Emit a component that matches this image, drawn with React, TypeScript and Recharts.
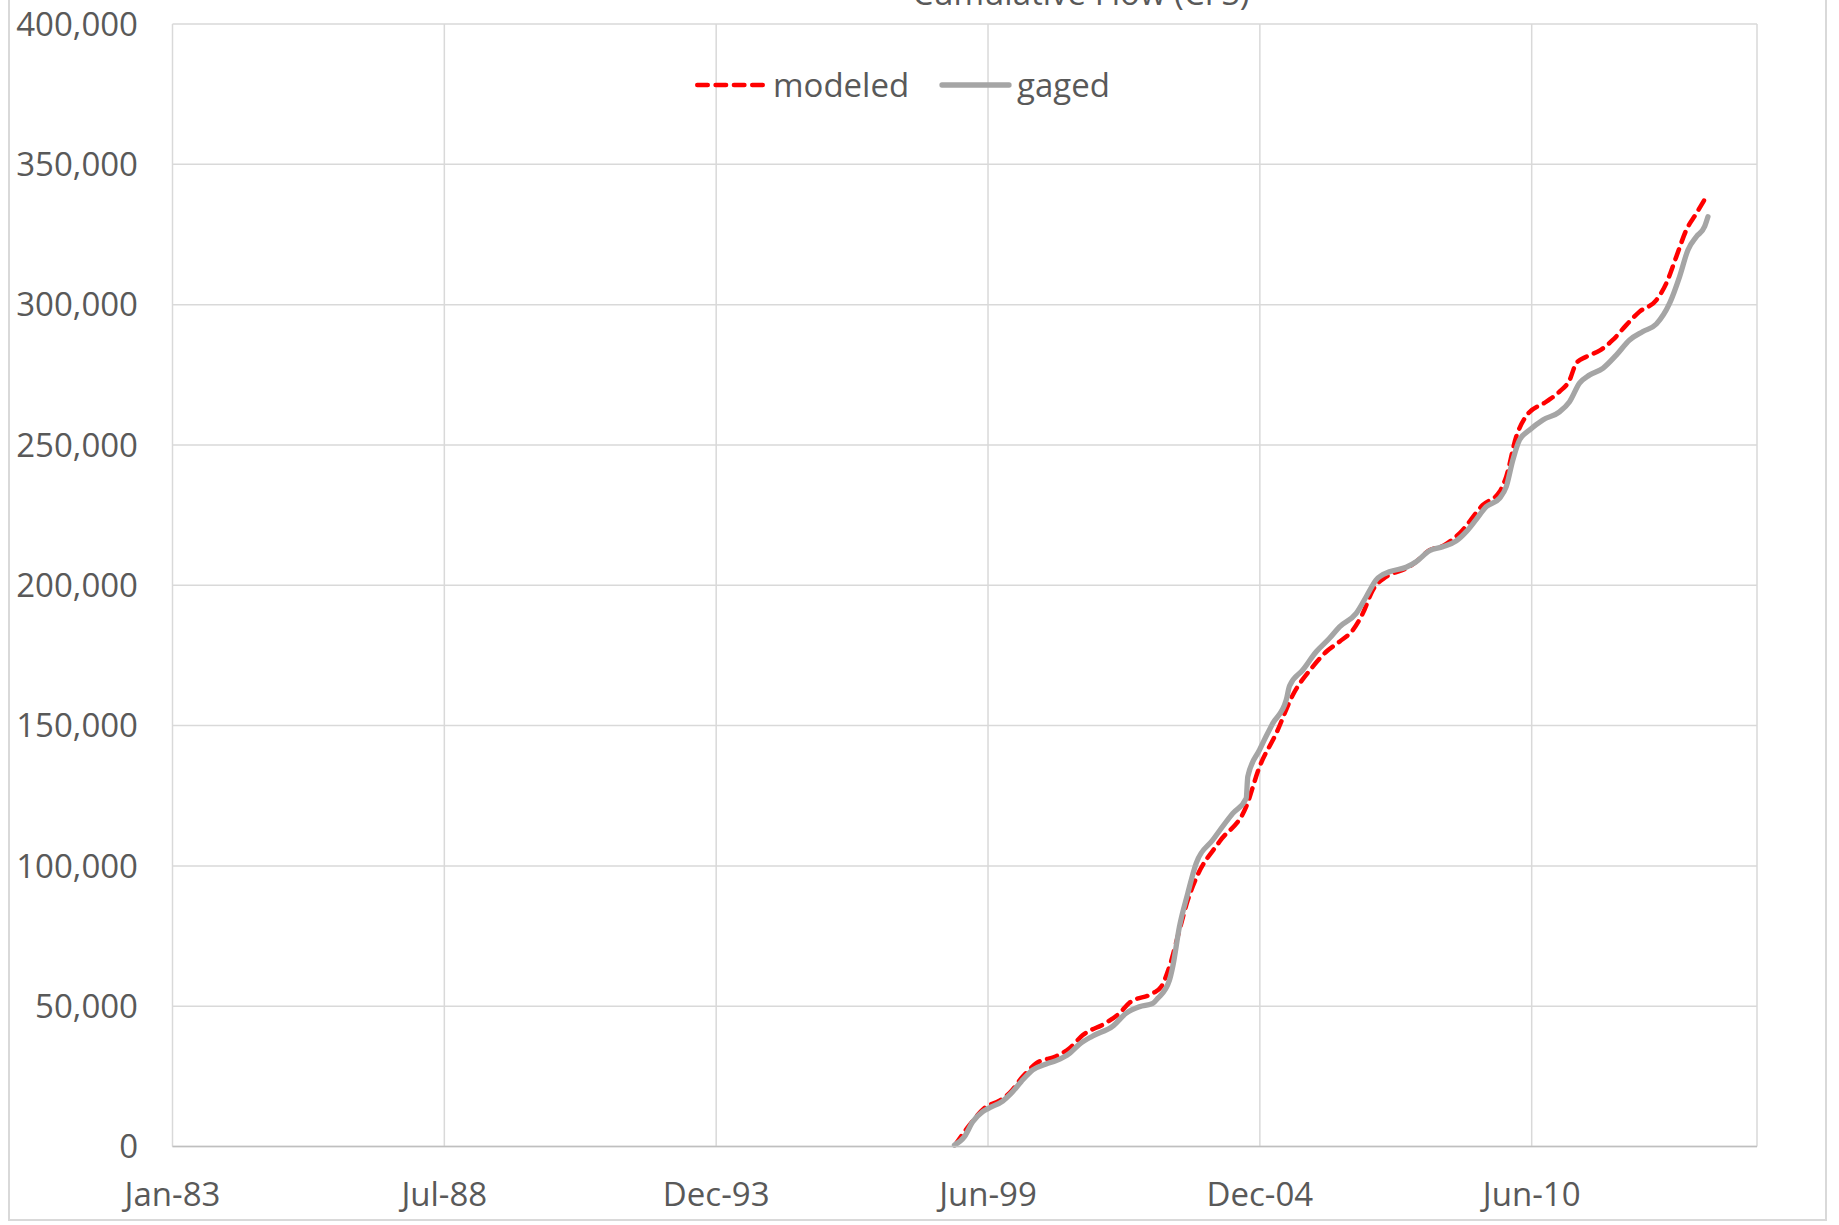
import React from 'react';
import { LineChart, Line, XAxis, YAxis, CartesianGrid, Legend } from 'recharts';

const gagedYears = [
  1998.792, 1998.994, 1999.161, 1999.362, 1999.477, 1999.765, 1999.934, 2000.136, 2000.369, 2000.639,
  2000.841, 2001.109, 2001.31, 2001.578, 2001.981, 2002.251, 2002.519, 2002.787, 2002.887, 2003.123,
  2003.189, 2003.324, 2003.492, 2003.661, 2003.995, 2004.398, 2004.668, 2004.7, 2004.936, 2005.204,
  2005.474, 2005.54, 2005.808, 2006.078, 2006.346, 2006.548, 2006.884, 2007.086, 2007.287, 2007.555,
  2007.891, 2008.093, 2008.361, 2008.629, 2008.899, 2009.1, 2009.302, 2009.503, 2009.771, 2009.906,
  2010.039, 2010.174, 2010.376, 2010.644, 2010.98, 2011.182, 2011.383, 2011.585, 2011.853, 2012.123,
  2012.391, 2012.659, 2012.929, 2013.197, 2013.398, 2013.566, 2013.735, 2013.902, 2013.969,
];
const gagedFlow = [
  500, 3500, 8800, 12400, 13600, 16200, 18900, 23100, 27300, 29400,
  30600, 33200, 36500, 39400, 42900, 47500, 49800, 51000, 52800, 59300,
  64100, 78300, 90200, 100900, 109200, 118700, 124100, 131800, 141300, 150800,
  159100, 164100, 169800, 176300, 181100, 185200, 190000, 195900, 201900, 204800,
  206400, 208400, 212300, 213700, 215800, 219100, 223500, 228000, 231000, 235100,
  244600, 251800, 255300, 258900, 261800, 265400, 272000, 274900, 277300, 282000,
  287400, 290400, 293100, 300500, 310000, 319500, 324200, 327800, 331300,
];

const modeledYears = [
  1998.806, 1999.094, 1999.431, 1999.699, 1999.9, 2000.168, 2000.438, 2000.841, 2001.109, 2001.377,
  2001.848, 2002.116, 2002.317, 2002.787, 2002.956, 2003.123, 2003.324, 2003.492, 2003.661, 2004.13,
  2004.668, 2004.936, 2005.272, 2005.607, 2006.01, 2006.28, 2006.548, 2006.816, 2007.018, 2007.219,
  2007.489, 2007.891, 2008.093, 2008.361, 2008.629, 2008.965, 2009.435, 2009.771, 2009.906, 2010.107,
  2010.308, 2010.711, 2010.98, 2011.182, 2011.317, 2011.518, 2011.786, 2012.054, 2012.324, 2012.592,
  2012.929, 2013.13, 2013.332, 2013.533, 2013.735, 2013.936,
];
const modeledFlow = [
  600, 7600, 14200, 16300, 19000, 24900, 29600, 32200, 35000, 39700,
  44100, 47500, 51200, 54600, 56900, 64100, 77100, 87800, 95600, 108600,
  121100, 135300, 147200, 160900, 171000, 176300, 179900, 184000, 190000, 198300,
  203000, 206000, 208400, 212500, 214000, 218500, 228600, 233300, 238700, 252900,
  260300, 265400, 269000, 273100, 279100, 281400, 283600, 287400, 292700, 297500,
  301600, 307600, 317100, 326600, 332500, 338500,
];

const seriesNames = ['modeled', 'gaged'];
const yTicks = [0, 50000, 100000, 150000, 200000, 250000, 300000, 350000, 400000];
const title = 'Cumulative Flow (CFS)';

// x axis starts mid January 1983 and Excel put a label every 2000 days
const axisStartDay = Date.UTC(1983, 0, 16) / 86400000;
const tickStepDays = 2000;
const axisSpanDays = 11657.6;
const xTicks = [0, 1, 2, 3, 4, 5].map((i) => axisStartDay + i * tickStepDays);
const monthNames = ['Jan', 'Feb', 'Mar', 'Apr', 'May', 'Jun', 'Jul', 'Aug', 'Sep', 'Oct', 'Nov', 'Dec'];

const FONT = '"Open Sans", sans-serif';
const TEXT = '#595959';
const RED = '#FF0000';
const GRAY = '#A5A5A5';

function yearToDay(yr: number) {
  const y = Math.floor(yr);
  const start = Date.UTC(y, 0, 1);
  const end = Date.UTC(y + 1, 0, 1);
  return (start + (yr - y) * (end - start)) / 86400000;
}

function dayLabel(day: number) {
  const d = new Date(Math.round(day) * 86400000);
  return monthNames[d.getUTCMonth()] + '-' + String(d.getUTCFullYear() % 100).padStart(2, '0');
}

const modeledData = modeledYears.map((yr, i) => ({ day: yearToDay(yr), flow: modeledFlow[i] }));
const gagedData = gagedYears.map((yr, i) => ({ day: yearToDay(yr), flow: gagedFlow[i] }));

function LegendBox() {
  return (
    <svg width={1839} height={120} style={{ display: 'block' }}>
      <line x1={697.25} y1={85} x2={762.75} y2={85} stroke={RED} strokeWidth={4.5}
        strokeDasharray="10.5 7.83" strokeLinecap="round" />
      <text x={773} y={97} fill={TEXT} fontSize={33} fontFamily={FONT}>{seriesNames[0]}</text>
      <line x1={942} y1={85} x2={1009} y2={85} stroke={GRAY} strokeWidth={5.3} strokeLinecap="round" />
      <text x={1017} y={97} fill={TEXT} fontSize={33} fontFamily={FONT}>{seriesNames[1]}</text>
    </svg>
  );
}

export default function App() {
  return (
    <div style={{ position: 'absolute', left: 0, top: 0, width: 1839, height: 1225, overflow: 'hidden', background: '#fff' }}>
      <div style={{ position: 'absolute', left: 8, top: -20, width: 1819, height: 1241, boxSizing: 'border-box', border: '2px solid #D9D9D9' }} />
      <svg width={1839} height={40} style={{ position: 'absolute', left: 0, top: 0 }}>
        <text x={1081} y={5} textAnchor="middle" fill={TEXT} fontSize={33} fontFamily={FONT}>{title}</text>
      </svg>
      <LineChart width={1839} height={1225} margin={{ top: 24, right: 82, left: 0, bottom: 0 }} style={{ position: 'absolute', left: 0, top: 0 }}>
        <CartesianGrid stroke="#D9D9D9" strokeWidth={1.5} />
        <XAxis
          type="number"
          dataKey="day"
          domain={[axisStartDay, axisStartDay + axisSpanDays]}
          ticks={xTicks}
          interval={0}
          allowDataOverflow
          tickFormatter={dayLabel}
          height={78.5}
          tickSize={0}
          tickMargin={36}
          axisLine={{ stroke: '#BFBFBF', strokeWidth: 1.5 }}
          tick={{ fill: TEXT, fontSize: 33, fontFamily: FONT }}
        />
        <YAxis
          type="number"
          domain={[0, 400000]}
          ticks={yTicks}
          interval={0}
          width={172.5}
          tickSize={0}
          tickMargin={34.5}
          axisLine={false}
          tickFormatter={(v: number) => v.toLocaleString('en-US')}
          tick={{ fill: TEXT, fontSize: 33, fontFamily: FONT }}
        />
        <Legend
          verticalAlign="middle"
          align="center"
          content={() => <LegendBox />}
          wrapperStyle={{ position: 'absolute', left: 0, top: 0, width: 1839, height: 120, margin: 0 }}
        />
        <Line
          data={modeledData}
          dataKey="flow"
          name={seriesNames[0]}
          type="monotone"
          stroke={RED}
          strokeWidth={4.5}
          strokeDasharray="10.5 7.83"
          strokeLinecap="round"
          strokeLinejoin="round"
          dot={false}
          activeDot={false}
          isAnimationActive={false}
        />
        <Line
          data={gagedData}
          dataKey="flow"
          name={seriesNames[1]}
          type="monotone"
          stroke={GRAY}
          strokeWidth={5.3}
          strokeLinecap="round"
          strokeLinejoin="round"
          dot={false}
          activeDot={false}
          isAnimationActive={false}
        />
      </LineChart>
    </div>
  );
}
